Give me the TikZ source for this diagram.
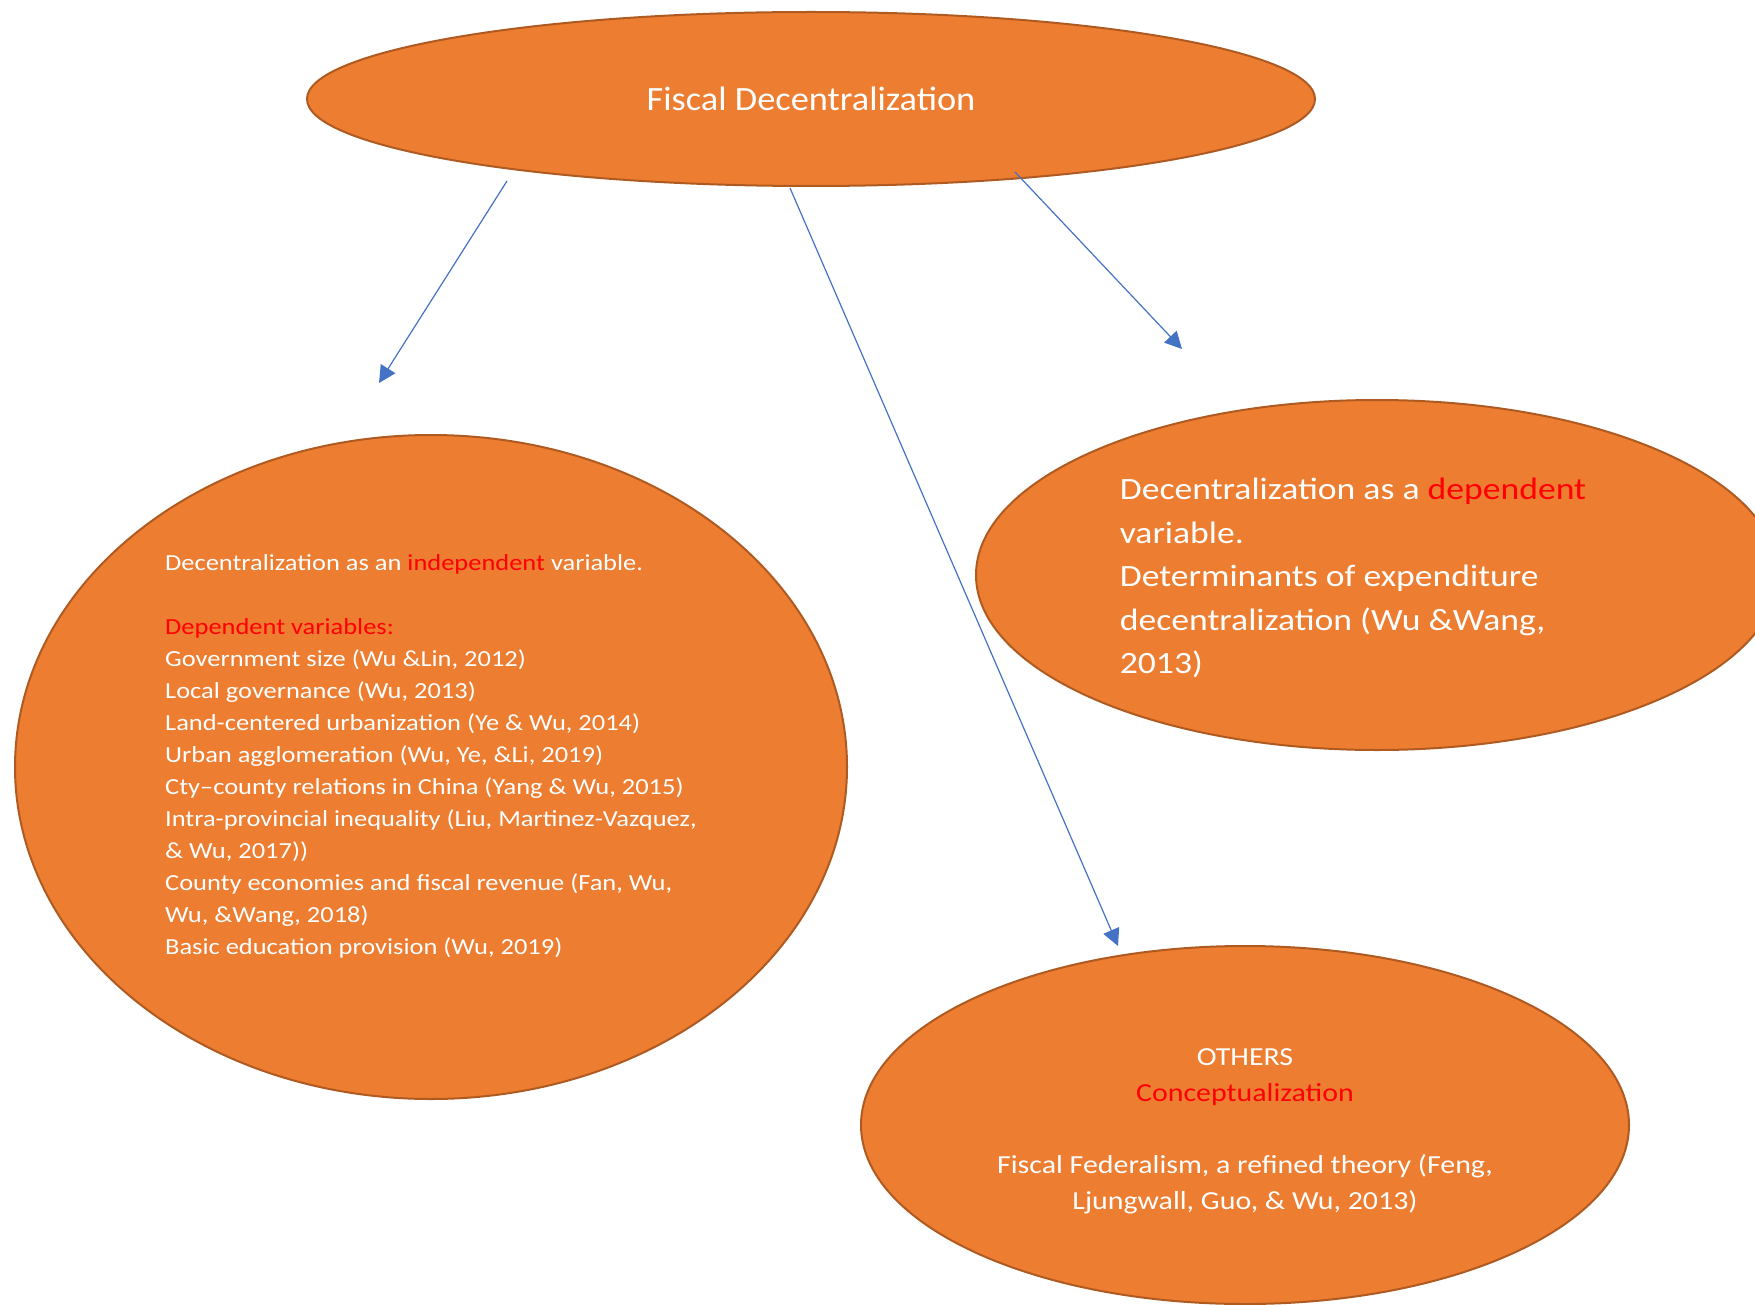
\documentclass[tikz,border=0pt]{standalone}
\usepackage{fontspec}
\setmainfont{Carlito}
\newfontfamily\widefont[FakeStretch=1.15]{Carlito}
\newfontfamily\titlefont[FakeStretch=1.07]{Carlito}
\usetikzlibrary{arrows.meta,shapes.geometric}
\definecolor{bubblefill}{HTML}{ED7D31}
\definecolor{bubbledraw}{HTML}{AE5A21}
\definecolor{linkblue}{HTML}{4472C4}
\definecolor{hired}{HTML}{FF0000}

\begin{document}
\begin{tikzpicture}[
    x=0.5pt, y=-0.5pt,
    bubble/.style={ellipse, draw=bubbledraw, fill=bubblefill, line width=1pt, text=white, inner sep=0pt},
    bubbletext/.style={text=white, inner sep=0pt},
    link/.style={draw=linkblue, line width=0.6pt, -{Triangle[length=8.5pt,width=8.5pt]}}
]
\useasboundingbox (0,0) rectangle (1755,1305);

% Define nodes
\node[bubble, minimum width=504pt, minimum height=87pt, font=\titlefont\fontsize{17}{20}\selectfont] (fiscal) at (811,99) {Fiscal Decentralization};
\node[bubble, minimum width=416pt, minimum height=332pt] (indep) at (431,767) {};
\node[bubbletext, align=left, font=\widefont\fontsize{11.5}{16}\selectfont] (indeptext) at (431,756) {Decentralization as an \textcolor{hired}{independent} variable.\\[16pt]
\textcolor{hired}{Dependent variables:}\\
Government size (Wu \&Lin, 2012)\\
Local governance (Wu, 2013)\\
Land-centered urbanization (Ye \& Wu, 2014)\\
Urban agglomeration (Wu, Ye, \&Li, 2019)\\
Cty–county relations in China (Yang \& Wu, 2015)\\
Intra-provincial inequality (Liu, Martinez-Vazquez,\\
\& Wu, 2017))\\
County economies and fiscal revenue (Fan, Wu,\\
Wu, \&Wang, 2018)\\
Basic education provision (Wu, 2019)};
\node[bubble, minimum width=401pt, minimum height=175pt] (dep) at (1377,575) {};
\node[bubbletext, align=left, font=\widefont\fontsize{15.5}{21.8}\selectfont] (deptext) at (1353,578) {Decentralization as a \textcolor{hired}{dependent}\\
variable.\\
Determinants of expenditure\\
decentralization (Wu \&Wang,\\
2013)};
\node[bubble, minimum width=384pt, minimum height=179pt] (others) at (1245,1125) {};
\node[bubbletext, align=center, font=\widefont\fontsize{13}{18}\selectfont] (otherstext) at (1245,1131) {OTHERS\\
\textcolor{hired}{Conceptualization}\\[18pt]
Fiscal Federalism, a refined theory (Feng,\\
Ljungwall, Guo, \& Wu, 2013)};

% Arrow ends
\coordinate (s1) at (507,181);
\coordinate (e1) at (379,383);
\coordinate (s2) at (790,188);
\coordinate (e2) at (1118,946);
\coordinate (s3) at (1015,172);
\coordinate (e3) at (1182,349);

% Connect nodes
\draw[link] (s1) -- (e1);
\draw[link] (s2) -- (e2);
\draw[link] (s3) -- (e3);

\end{tikzpicture}
\end{document}
